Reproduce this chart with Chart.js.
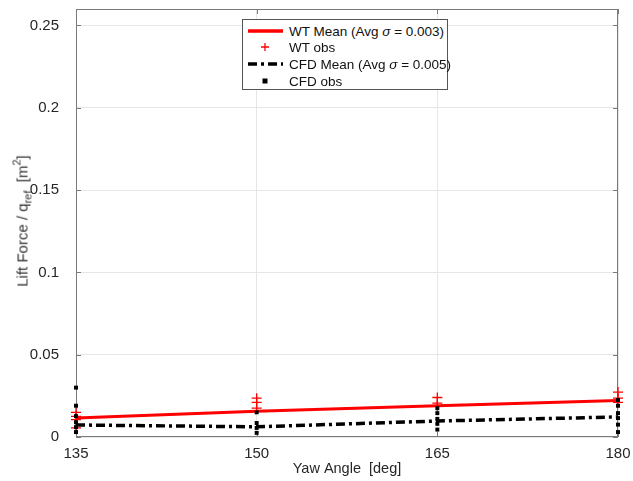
<!DOCTYPE html>
<html><head><meta charset="utf-8">
<script src="https://cdn.jsdelivr.net/npm/chart.js@4.4.0/dist/chart.umd.min.js"></script>
<style>
html,body{margin:0;padding:0;background:#fff;}
#wrap{position:relative;width:633px;height:481px;font-family:"Liberation Sans",Arial,Helvetica,sans-serif;color:#262626;}
#c{position:absolute;left:0;top:0;}
#ytitle{position:absolute;left:22px;top:221px;transform:translate(-50%,-50%) rotate(-90deg);white-space:nowrap;font-size:15px;font-weight:normal;color:#333;}
#ytitle sub{font-size:11px;vertical-align:-4px;}
#ytitle sup{font-size:11px;vertical-align:7px;}
#legend{position:absolute;left:242px;top:19px;width:206px;height:71px;border:1px solid #555;background:#fff;box-sizing:border-box;font-size:13.5px;color:#111;}
.row{position:absolute;left:4px;height:16px;display:flex;align-items:center;white-space:nowrap;}
.row svg{width:36px;height:16px;margin-right:6px;flex:none;}
</style></head>
<body>
<div id="wrap">
<canvas id="c" width="633" height="481"></canvas>
<div id="ytitle">Lift Force / q<sub>ref</sub>&nbsp;&nbsp;[m<sup>2</sup>]</div>
<div id="legend">
 <div class="row" style="top:3px"><svg><line x1="1" y1="8" x2="36" y2="8" stroke="#ff0000" stroke-width="3.5"/></svg><span>WT Mean (Avg <i>σ</i> = 0.003)</span></div>
 <div class="row" style="top:19px"><svg><path d="M14 8H22M18 4V12" stroke="#ff0000" stroke-width="1.3"/></svg><span>WT obs</span></div>
 <div class="row" style="top:36px"><svg><line x1="1" y1="8" x2="36" y2="8" stroke="#000" stroke-width="3.5" stroke-dasharray="9 4 3 4"/></svg><span>CFD Mean (Avg <i>σ</i> = 0.005)</span></div>
 <div class="row" style="top:53px"><svg><rect x="15.5" y="5.5" width="5" height="5" fill="#000"/></svg><span>CFD obs</span></div>
</div>
</div>
<script>
const yawAngles = [135, 150, 165, 180];
const wtMean  = [0.0115, 0.0157, 0.0190, 0.0222];
const cfdMean = [0.0073, 0.0062, 0.0097, 0.0122];
const wtObs135 = [0.0150, 0.0125, 0.0105, 0.0055];
const wtObs150 = [0.0236, 0.0210, 0.0176];
const wtObs165 = [0.0240, 0.0206, 0.0190];
const wtObs180 = [0.0273, 0.0236, 0.0210];
const cfdObs135 = [0.0300, 0.0190, 0.0127, 0.0090, 0.0060, 0.0030];
const cfdObs150 = [0.0150, 0.0085, 0.0055, 0.0025];
const cfdObs165 = [0.0175, 0.0145, 0.0110, 0.0080, 0.0045];
const cfdObs180 = [0.0225, 0.0190, 0.0145, 0.0115, 0.0075, 0.0030];
const xTicks = [135, 150, 165, 180];
const yTicks = [0, 0.05, 0.1, 0.15, 0.2, 0.25];

const wtObs = [wtObs135, wtObs150, wtObs165, wtObs180];
const cfdObs = [cfdObs135, cfdObs150, cfdObs165, cfdObs180];
const toPts = (groups) => groups.flatMap((g, i) => g.map(v => ({x: yawAngles[i], y: v})));

const boxPlugin = {
  id: 'box',
  beforeDatasetsDraw(chart) {
    const {ctx, chartArea: a, scales: {x, y}} = chart;
    ctx.save();
    ctx.strokeStyle = '#7a7a7a';
    ctx.lineWidth = 1;
    ctx.strokeRect(a.left + 0.5, a.top + 0.5, a.right - a.left - 1, a.bottom - a.top - 1);
    ctx.beginPath();
    xTicks.forEach(v => {
      const px = Math.round(x.getPixelForValue(v)) + 0.5;
      ctx.moveTo(px, a.bottom); ctx.lineTo(px, a.bottom - 5);
      ctx.moveTo(px, a.top); ctx.lineTo(px, a.top + 5);
    });
    yTicks.forEach(v => {
      const py = Math.round(y.getPixelForValue(v)) + 0.5;
      ctx.moveTo(a.left, py); ctx.lineTo(a.left + 5, py);
      ctx.moveTo(a.right, py); ctx.lineTo(a.right - 5, py);
    });
    ctx.stroke();
    ctx.restore();
  }
};

const noPad = s => { s.paddingTop = 0; s.paddingBottom = 0; s.paddingLeft = 0; s.paddingRight = 0; };

new Chart(document.getElementById('c'), {
  type: 'scatter',
  data: {
    datasets: [
      {label: 'WT Mean', type: 'line', data: yawAngles.map((x, i) => ({x, y: wtMean[i]})),
       borderColor: '#ff0000', borderWidth: 3, pointRadius: 0, fill: false, order: 4, clip: false},
      {label: 'WT obs', data: toPts(wtObs), pointStyle: 'cross', pointRadius: 5,
       borderColor: '#ff0000', backgroundColor: '#ff0000', pointBorderWidth: 1.3, order: 3, clip: false},
      {label: 'CFD Mean', type: 'line', data: yawAngles.map((x, i) => ({x, y: cfdMean[i]})),
       borderColor: '#000', borderWidth: 3.5, borderDash: [9, 4, 3, 4], pointRadius: 0, fill: false, order: 2, clip: false},
      {label: 'CFD obs', data: toPts(cfdObs), pointStyle: 'rect', pointRadius: 2.8,
       borderColor: '#000', backgroundColor: '#000', pointBorderWidth: 0, order: 1, clip: false}
    ]
  },
  options: {
    responsive: false,
    animation: false,
    layout: {padding: {top: 9, right: 15, left: 0, bottom: 0}},
    plugins: {legend: {display: false}, tooltip: {enabled: false}},
    scales: {
      x: {
        type: 'linear', min: 135, max: 180,
        afterBuildTicks: s => { s.ticks = xTicks.map(v => ({value: v})); },
        afterFit: s => { s.height = 44; noPad(s); },
        grid: {color: '#e6e6e6', drawTicks: false},
        border: {display: false},
        ticks: {padding: 8, color: '#262626', font: {family: '"Liberation Sans", Arial, sans-serif', size: 15}, maxRotation: 0},
        title: {display: true, text: 'Yaw Angle  [deg]', color: '#262626',
                font: {family: '"Liberation Sans", Arial, sans-serif', size: 14.5}, padding: {top: 0, bottom: 3}}
      },
      y: {
        type: 'linear', min: 0, max: 0.26,
        afterBuildTicks: s => { s.ticks = yTicks.map(v => ({value: v})); },
        afterFit: s => { s.width = 76; noPad(s); },
        grid: {color: '#e6e6e6', drawTicks: false},
        border: {display: false},
        ticks: {padding: 17, color: '#262626', font: {family: '"Liberation Sans", Arial, sans-serif', size: 15},
                callback: v => String(+v.toFixed(2))}
      }
    }
  },
  plugins: [boxPlugin]
});
</script>
</body></html>
